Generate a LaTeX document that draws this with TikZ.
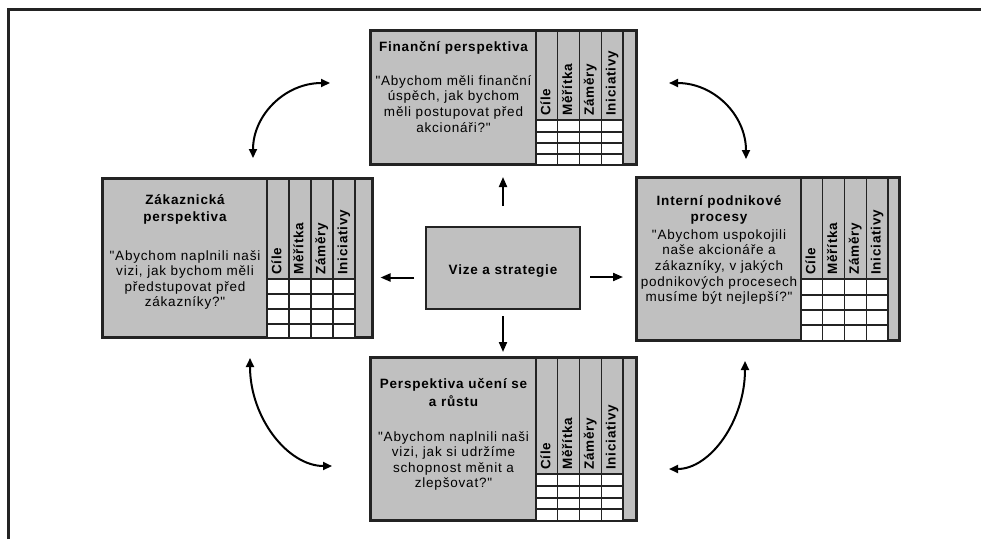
\documentclass[tikz,border=0pt]{standalone}
\usepackage{fontspec}
\setmainfont{Liberation Sans}[LetterSpace=6, Ligatures=TeXOff]
\usetikzlibrary{arrows.meta,fit}
\definecolor{boxgray}{RGB}{192,192,192}
\definecolor{edge}{RGB}{35,35,35}
\tikzset{
  pbox/.style={draw=edge, fill=boxgray, line width=2pt, inner sep=0pt},
  gridline/.style={draw=edge, line width=1.2pt},
  ttl/.style={font=\fontsize{13.5}{16}\selectfont\bfseries, anchor=base, inner sep=0pt},
  qt/.style={font=\fontsize{13.5}{16}\selectfont, anchor=base, inner sep=0pt},
  hdr/.style={font=\fontsize{13.5}{16}\selectfont\bfseries, rotate=90, anchor=west, inner sep=0pt, text height=9.7pt, text depth=2.8pt},
  arr/.style={-{Triangle[length=10pt,width=8pt]}, line width=2pt, draw=black},
  darr/.style={{Triangle[length=9pt,width=8pt]}-{Triangle[length=9pt,width=8pt]}, line width=2pt, draw=black},
}
% #1 name, #2 x0, #3 y0, #4 x1, #5 y1, #6 xt, #7 column width, #8 yh/r1/r2/r3
\newcommand\perspgrid[8]{%
  \node[pbox, fit={(#2,#3) (#4,#5)}] (#1) {};
  \foreach \yh/\ra/\rb/\rc in {#8} {
    \fill[white] (#6,\yh) rectangle ({#6+4*#7},#5);
    \foreach \yy in {\yh,\ra,\rb,\rc} \draw[gridline] (#6,\yy) -- ({#6+4*#7},\yy);
    \foreach \lab [count=\k from 0] in {Cíle,Měřítka,Záměry,Iniciativy}
      \node[hdr] (#1-h\k) at ({#6+(\k+0.5)*#7}, {\yh-4}) {\lab};
  }
  \foreach \k in {0,...,4} \draw[gridline] ({#6+\k*#7},#3) -- ({#6+\k*#7},#5);
  \draw[draw=edge, line width=2pt] (#1.north west) rectangle (#1.south east);
}
% #1 name prefix, #2 x, #3 first baseline, #4 pitch, #5 style, #6 lines
\newcommand\tlines[6]{%
  \foreach \t [count=\i] in {#6}
    \node[#5] (#1\i) at (#2, {#3+(\i-1)*#4}) {\t};
}
\begin{document}
\begin{tikzpicture}[x=1pt, y=-1pt]
\useasboundingbox (0,0) rectangle (981,539);
\draw[draw=edge, line width=2.5pt] (8.5,539) -- (8.5,9.5) -- (981,9.5);

% Financni perspektiva
\perspgrid{fin}{371}{31}{636}{164}{536}{21.75}{120/132/143/154}
\tlines{fint}{453.5}{51}{16.5}{ttl}{{Finanční perspektiva}}
\tlines{finq}{453.5}{85}{15.7}{qt}{{"Abychom měli finanční},{úspěch, jak bychom},{měli postupovat před},{akcionáři?"}}

% Zakaznicka perspektiva
\perspgrid{cus}{103}{179}{372}{337}{267}{22}{279/294/309/324}
\tlines{cust}{185}{204.3}{16.7}{ttl}{{Zákaznická},{perspektiva}}
\tlines{cusq}{185}{260}{15.5}{qt}{{"Abychom naplnili naši},{vizi, jak bychom měli},{předstupovat před},{zákazníky?"}}

% Interni podnikove procesy
\perspgrid{pro}{637}{178}{899}{340}{801}{21.75}{279/295/310/325}
\tlines{prot}{719}{205}{16}{ttl}{{Interní podnikové},{procesy}}
\tlines{proq}{719}{239}{15.7}{qt}{{"Abychom uspokojili},{naše akcionáře a},{zákazníky, v jakých},{podnikových procesech},{musíme být nejlepší?"}}

% Perspektiva uceni se a rustu
\perspgrid{lea}{371}{358}{636}{520}{536}{21.75}{474/486/498/509}
\tlines{leat}{453.5}{388.3}{18}{ttl}{{Perspektiva učení se},{a růstu}}
\tlines{leaq}{453.5}{441}{15.6}{qt}{{"Abychom naplnili naši},{vizi, jak si udržíme},{schopnost měnit a},{zlepšovat?"}}

% Vize a strategie
\node[pbox, minimum width=154pt, minimum height=82pt] (vis) at (503,268) {};
\node[ttl] (vist) at (503,274) {Vize a strategie};

% straight arrows
\draw[arr, shorten <=20pt, shorten >=12pt] (vis.north) -- (vis.north |- fin.south);
\draw[arr, shorten <=6pt, shorten >=5pt] (vis.south) -- (vis.south |- lea.north);
\coordinate (la) at (414,277.5);
\coordinate (lb) at (380.5,277.5);
\coordinate (ra) at (590,277);
\coordinate (rb) at (623,277);
\draw[arr] (la) -- (lb);
\draw[arr] (ra) -- (rb);

% curved double arrows
\coordinate (c1a) at (330,83);  \coordinate (c1b) at (253,158);
\coordinate (c2a) at (669,83);  \coordinate (c2b) at (746,159);
\coordinate (c3a) at (250,358); \coordinate (c3b) at (332,466);
\coordinate (c4a) at (745,361); \coordinate (c4b) at (669,469);
\draw[darr] (c1a) .. controls (285,83) and (253,115) .. (c1b);
\draw[darr] (c2a) .. controls (714,83) and (746,115) .. (c2b);
\draw[darr] (c3a) .. controls (250,418) and (288,466) .. (c3b);
\draw[darr] (c4a) .. controls (745,421) and (710,469) .. (c4b);
\end{tikzpicture}
\end{document}
